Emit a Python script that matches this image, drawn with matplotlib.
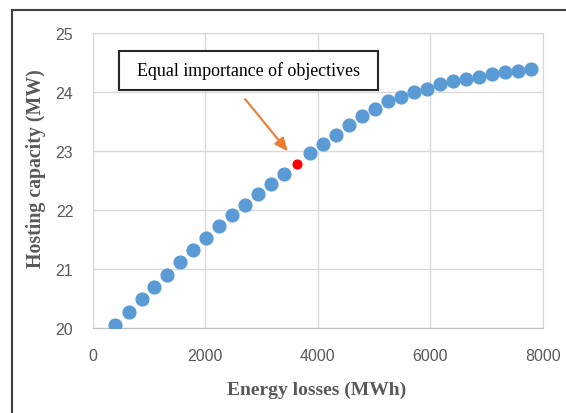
import matplotlib.pyplot as plt
from matplotlib.lines import Line2D
from matplotlib.patches import Rectangle

# Pareto front: energy losses (MWh) vs hosting capacity (MW)
losses = [403, 640, 871, 1096, 1327, 1559, 1790, 2021, 2252, 2483, 2714,
          2945, 3176, 3407, 3864, 4095, 4326, 4557, 4788, 5019, 5250,
          5481, 5713, 5944, 6175, 6406, 6637, 6868, 7099, 7330, 7561, 7793]
capacity = [20.06, 20.27, 20.49, 20.70, 20.91, 21.12, 21.33, 21.53, 21.73,
            21.92, 22.09, 22.27, 22.45, 22.62, 22.96, 23.12, 23.28, 23.44,
            23.59, 23.72, 23.85, 23.92, 24.00, 24.05, 24.13, 24.18, 24.22,
            24.26, 24.31, 24.34, 24.36, 24.39]

# point where both objectives have equal weight
eq_loss = [3633]
eq_cap = [22.79]

x_ticks = [0, 2000, 4000, 6000, 8000]
y_ticks = [20, 21, 22, 23, 24, 25]

fig = plt.figure(figsize=(5.66, 4.14), dpi=100)
ax = fig.add_axes([0.1638, 0.2046, 0.795, 0.7133])

ax.plot(losses, capacity, 'o', color='#5B9BD5', markersize=9.2, zorder=3)
ax.plot(eq_loss, eq_cap, 'o', color='#FF0000', markersize=6.3, zorder=4)

ax.set_xlim(0, 8000)
ax.set_ylim(20, 25)
ax.set_xticks(x_ticks)
ax.set_yticks(y_ticks)
ax.grid(True, color='#D9D9D9', linewidth=1.0)
ax.set_axisbelow(True)
for s in ['top', 'right', 'left']:
    ax.spines[s].set_color('#D9D9D9')
ax.spines['bottom'].set_color('#BFBFBF')
ax.tick_params(length=0, labelsize=11.5, labelcolor='#595959', pad=14)
for lab in ax.get_xticklabels() + ax.get_yticklabels():
    lab.set_family('Liberation Sans')

ax.set_xlabel('Energy losses (MWh)', family='Liberation Serif', fontweight='bold',
              fontsize=14, color='#595959')
ax.set_ylabel('Hosting capacity (MW)', family='Liberation Serif', fontweight='bold',
              fontsize=14.3, color='#595959')
ax.xaxis.set_label_coords(0.497, -0.178)
ax.yaxis.set_label_coords(-0.104, 0.543)

# annotation box and arrow
ax.add_patch(Rectangle((0.0591, 0.807), 0.5756, 0.133, transform=ax.transAxes,
                       facecolor='white', edgecolor='#262626', linewidth=1.5, zorder=5))
ax.text(0.347, 0.873, 'Equal importance of objectives', transform=ax.transAxes,
        ha='center', va='center', family='Liberation Serif', fontsize=12.9,
        color='black', zorder=6)
ax.annotate('', xy=(0.4335, 0.5994), xytext=(0.3386, 0.7765),
            xycoords='axes fraction', textcoords='axes fraction',
            arrowprops=dict(arrowstyle='-|>,head_length=0.8,head_width=0.35',
                            color='#ED7D31', lw=1.5, shrinkA=0, shrinkB=0))

# outer frame (continues past the right and bottom edges)
fig.add_artist(Line2D([12 / 566, 12 / 566], [0, 1 - 11 / 414], transform=fig.transFigure,
                      color='#404040', linewidth=1.5))
fig.add_artist(Line2D([12 / 566, 1], [1 - 11 / 414, 1 - 11 / 414], transform=fig.transFigure,
                      color='#404040', linewidth=1.5))

fig.savefig('out.png', dpi=100)
